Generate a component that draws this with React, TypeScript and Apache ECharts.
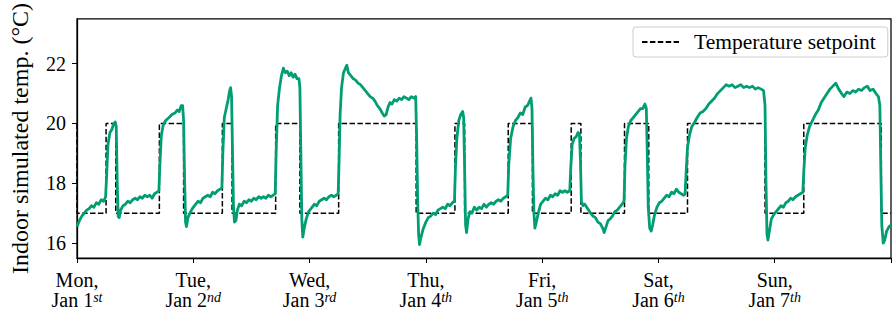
import React, { useEffect, useRef } from "react";
import * as echarts from "echarts";

// x values are hours since Mon, Jan 1st 00:00
const dayNames = ["Mon,", "Tue,", "Wed,", "Thu,", "Fri,", "Sat,", "Sun,"];
const dayDates = ["Jan 1", "Jan 2", "Jan 3", "Jan 4", "Jan 5", "Jan 6", "Jan 7"];
const daySuffixes = ["st", "nd", "rd", "th", "th", "th", "th"];
const yTickValues = [16, 18, 20, 22];

const setpointHours = [0, 0, 6, 8, 17, 22, 30, 32, 41, 46, 54, 70, 78, 80, 89, 94, 102, 104, 113, 118, 126, 142, 150, 166, 168];
const setpointValues = [20, 17, 20, 17, 20, 17, 20, 17, 20, 17, 20, 17, 20, 17, 20, 17, 20, 17, 20, 17, 20, 17, 20, 17, 17];

const monTemps = [
  [0, 16.55], [0.5, 16.75], [1, 16.9], [1.5, 17.0], [2, 17.1], [2.5, 17.15], [3, 17.25], [3.5, 17.2], [4, 17.35], [4.5, 17.3], [5, 17.45], [5.5, 17.4], [5.9, 17.55],
  [6.1, 18.2], [6.4, 19.3], [6.8, 19.7], [7.2, 19.8], [7.6, 20.0], [7.9, 20.05], [8.1, 19.9], [8.3, 18.0], [8.5, 16.9], [8.7, 16.85], [9.0, 17.1], [9.5, 17.25], [10, 17.3], [10.5, 17.4], [11, 17.35], [11.5, 17.45], [12, 17.5], [12.5, 17.45], [13, 17.55], [13.5, 17.5], [14, 17.6], [14.5, 17.55], [15, 17.6], [15.5, 17.5], [16, 17.65], [16.5, 17.7], [16.9, 17.75],
  [17.1, 18.6], [17.4, 19.6], [17.8, 19.95], [18.3, 20.1], [19, 20.2], [19.6, 20.3], [20.2, 20.35], [20.7, 20.45], [21.1, 20.4], [21.5, 20.6], [21.8, 20.6], [22.0, 20.1], [22.2, 18.2], [22.4, 16.7], [22.6, 16.55], [22.9, 16.85], [23.3, 17.0], [23.8, 17.15],
];
const tueTemps = [
  [24.5, 17.3], [25, 17.4], [25.5, 17.35], [26, 17.5], [26.5, 17.55], [27, 17.6], [27.5, 17.55], [28, 17.7], [28.5, 17.65], [29, 17.75], [29.5, 17.8], [29.9, 17.85],
  [30.1, 19.0], [30.4, 20.2], [30.8, 20.5], [31.2, 20.8], [31.5, 21.1], [31.7, 21.2], [31.9, 20.9], [32.1, 19.0], [32.3, 17.2], [32.5, 16.7], [32.8, 16.75], [33.1, 17.1], [33.5, 17.3], [34, 17.25], [34.5, 17.4], [35, 17.35], [35.5, 17.45], [36, 17.4], [36.5, 17.5], [37, 17.45], [37.5, 17.55], [38, 17.5], [38.5, 17.55], [39, 17.5], [39.5, 17.6], [40, 17.55], [40.5, 17.6], [40.9, 17.65],
  [41.1, 19.0], [41.4, 20.6], [41.8, 21.2], [42.2, 21.6], [42.6, 21.85], [43, 21.7], [43.4, 21.75], [43.8, 21.6], [44.2, 21.7], [44.6, 21.55], [45, 21.65], [45.4, 21.5], [45.8, 21.5], [46.0, 21.2], [46.2, 19.0], [46.4, 16.8], [46.6, 16.2], [46.9, 16.5], [47.3, 16.8], [47.8, 17.05],
];
const wedTemps = [
  [48.3, 17.15], [49, 17.3], [49.5, 17.25], [50, 17.4], [50.5, 17.45], [51, 17.5], [51.5, 17.45], [52, 17.55], [52.5, 17.6], [53, 17.55], [53.5, 17.6], [53.9, 17.65],
  [54.1, 18.8], [54.3, 20.3], [54.6, 21.2], [55, 21.7], [55.4, 21.85], [55.7, 21.95], [56, 21.7], [56.5, 21.6], [57, 21.5], [57.5, 21.45], [58, 21.35], [58.5, 21.3], [59, 21.2], [59.5, 21.1], [60, 21.0], [60.5, 20.9], [61, 20.85], [61.5, 20.75], [62, 20.6], [62.5, 20.5], [63, 20.35], [63.4, 20.25], [63.8, 20.3], [64.2, 20.55], [64.6, 20.7], [65, 20.65], [65.5, 20.8], [66, 20.75], [66.5, 20.85], [67, 20.8], [67.5, 20.9], [68, 20.85], [68.5, 20.8], [69, 20.9], [69.5, 20.85], [69.9, 20.9],
  [70.1, 19.5], [70.3, 17.5], [70.5, 16.3], [70.7, 15.95], [71, 16.2], [71.4, 16.45], [72, 16.7],
];
const thuTemps = [
  [72.5, 16.85], [73, 16.9], [73.5, 17.0], [74, 16.95], [74.5, 17.1], [75, 17.15], [75.5, 17.2], [76, 17.15], [76.5, 17.3], [77, 17.25], [77.5, 17.35], [77.9, 17.4],
  [78.1, 18.5], [78.4, 19.5], [78.8, 20.1], [79.2, 20.3], [79.6, 20.4], [79.8, 20.2], [80.0, 18.5], [80.2, 16.6], [80.4, 16.35], [80.7, 16.8], [81.1, 17.05], [81.5, 17.0], [82, 17.2], [82.5, 17.1], [83, 17.2], [83.5, 17.15], [84, 17.3], [84.5, 17.2], [85, 17.3], [85.5, 17.35], [86, 17.3], [86.5, 17.4], [87, 17.45], [87.5, 17.4], [88, 17.5], [88.5, 17.55], [88.9, 17.6],
  [89.1, 18.6], [89.5, 19.5], [90, 19.9], [90.5, 20.1], [91, 20.2], [91.5, 20.35], [92, 20.3], [92.5, 20.55], [93, 20.6], [93.4, 20.75], [93.7, 20.85], [93.9, 20.5], [94.1, 18.5], [94.3, 17.0], [94.5, 16.5], [94.8, 16.7], [95.2, 17.0], [95.7, 17.3],
];
const friTemps = [
  [96.2, 17.4], [96.7, 17.5], [97.2, 17.45], [97.7, 17.6], [98.2, 17.55], [98.7, 17.65], [99.2, 17.6], [99.7, 17.75], [100.2, 17.7], [100.7, 17.75], [101.2, 17.7], [101.7, 17.75],
  [101.9, 18.5], [102.2, 19.3], [102.6, 19.5], [103, 19.55], [103.4, 19.7], [103.7, 19.65], [103.9, 18.8], [104.1, 17.4], [104.4, 17.25], [104.8, 17.3], [105.2, 17.2], [105.6, 17.1], [106, 17.0], [106.5, 16.9], [107, 16.85], [107.5, 16.7], [108, 16.65], [108.5, 16.5], [108.8, 16.35], [109.2, 16.55], [109.6, 16.75], [110, 16.8], [110.5, 16.9], [111, 17.05], [111.5, 17.1], [112, 17.2], [112.5, 17.3], [112.9, 17.4],
  [113.1, 18.6], [113.4, 19.5], [113.8, 19.9], [114.3, 20.1], [114.8, 20.2], [115.3, 20.3], [115.8, 20.4], [116.3, 20.5], [116.8, 20.5], [117.2, 20.65], [117.5, 20.5], [117.7, 19.0], [117.9, 17.2], [118.2, 16.5], [118.5, 16.4], [118.8, 16.6], [119.2, 16.95], [119.7, 17.2],
];
const satTemps = [
  [120.2, 17.35], [120.7, 17.4], [121.2, 17.5], [121.7, 17.6], [122.2, 17.55], [122.7, 17.7], [123.2, 17.65], [123.7, 17.8], [124.2, 17.7], [124.7, 17.65], [125.2, 17.6], [125.5, 17.65],
  [125.7, 18.3], [126, 19.2], [126.4, 19.6], [126.9, 19.9], [127.5, 20.05], [128, 20.2], [128.6, 20.35], [129.2, 20.4], [129.8, 20.5], [130.4, 20.65], [131, 20.75], [131.6, 20.85], [132.2, 21.0], [132.8, 21.1], [133.4, 21.2], [134, 21.3], [134.6, 21.25], [135.2, 21.3], [135.8, 21.2], [136.4, 21.25], [137, 21.3], [137.6, 21.2], [138.2, 21.25], [138.8, 21.2], [139.4, 21.25], [140, 21.15], [140.6, 21.2], [141.2, 21.15], [141.7, 21.1],
  [142, 20.6], [142.2, 18.0], [142.4, 16.3], [142.6, 16.1], [142.9, 16.4], [143.3, 16.8], [143.8, 16.95],
];
const sunTemps = [
  [144.3, 17.05], [144.8, 17.15], [145.3, 17.25], [145.8, 17.2], [146.3, 17.35], [146.8, 17.4], [147.3, 17.5], [147.8, 17.45], [148.3, 17.55], [148.8, 17.6], [149.3, 17.65], [149.8, 17.7],
  [150, 18.4], [150.3, 19.2], [150.7, 19.6], [151.2, 19.9], [151.8, 20.1], [152.4, 20.3], [153, 20.45], [153.6, 20.7], [154.2, 20.85], [154.8, 21.0], [155.4, 21.15], [156, 21.25], [156.6, 21.35], [157.2, 21.15], [157.8, 21.0], [158.3, 20.9], [158.9, 21.05], [159.5, 21.0], [160.1, 21.1], [160.7, 21.05], [161.3, 21.15], [161.9, 21.1], [162.5, 21.2], [163.1, 21.25], [163.7, 21.1], [164.3, 21.15], [164.9, 21.0], [165.4, 20.9],
  [165.7, 20.6], [165.9, 18.5], [166.1, 16.6], [166.4, 16.0], [166.7, 16.1], [167.1, 16.4], [167.6, 16.55], [168, 16.6],
];

const FONT = "'Liberation Serif', 'Times New Roman', serif";

export default function App() {
  const ref = useRef<HTMLDivElement>(null);
  useEffect(() => {
    if (!ref.current) return;
    const chart = echarts.init(ref.current, undefined, { renderer: "svg" });
    const tempData = [...monTemps, ...tueTemps, ...wedTemps, ...thuTemps, ...friTemps, ...satTemps, ...sunTemps];
    const setpointData = setpointHours.map((h, i) => [h, setpointValues[i]]);
    chart.setOption({
      animation: false,
      backgroundColor: "#fff",
      textStyle: { fontFamily: FONT },
      grid: {
        left: 77, top: 17, width: 820, height: 241,
        show: true, borderColor: "#000", borderWidth: 1.25, backgroundColor: "transparent",
      },
      legend: {
        data: ["Temperature setpoint"],
        left: 633, top: 27,
        padding: [4, 12, 4, 8],
        backgroundColor: "rgba(255,255,255,0.8)",
        borderColor: "#cccccc", borderWidth: 1, borderRadius: 3,
        itemWidth: 37, itemHeight: 14,
        itemStyle: { opacity: 0 },
        textStyle: { fontFamily: FONT, fontSize: 21.5, color: "#000", padding: [0, 0, 0, 10] },
      },
      xAxis: {
        type: "value", min: 0, max: 168, interval: 24,
        axisLine: { show: true, lineStyle: { color: "#000", width: 1.25 } },
        axisTick: { show: true, length: 5, lineStyle: { color: "#000", width: 1 } },
        splitLine: { show: false },
        axisLabel: {
          margin: 12,
          color: "#000",
          formatter: (v: number) => {
            const i = Math.round(v / 24);
            if (i < 0 || i >= dayNames.length) return "";
            return `{d|${dayNames[i]}}\n{d|${dayDates[i]}}{s|${daySuffixes[i]}}`;
          },
          rich: {
            d: { fontFamily: FONT, fontSize: 20, lineHeight: 20, color: "#000" },
            s: { fontFamily: FONT, fontSize: 14, fontStyle: "italic", lineHeight: 12, verticalAlign: "top", color: "#000" },
          },
        },
      },
      yAxis: {
        type: "value", min: 15.5, max: 23.5,
        name: "Indoor simulated temp. (°C)",
        nameLocation: "middle", nameGap: 45, nameRotate: 90,
        nameTextStyle: { fontFamily: FONT, fontSize: 24, color: "#000" },
        axisLine: { show: true, lineStyle: { color: "#000", width: 1.25 } },
        axisTick: { show: true, length: 5, lineStyle: { color: "#000", width: 1 }, customValues: yTickValues },
        splitLine: { show: false },
        axisLabel: { margin: 11, color: "#000", fontFamily: FONT, fontSize: 20, customValues: yTickValues },
      },
      series: [
        {
          name: "Temperature setpoint",
          type: "line",
          step: "end",
          data: setpointData,
          symbol: "none",
          showSymbol: false,
          lineStyle: { color: "#000", width: 1.5, type: [5.5, 2.4] },
          itemStyle: { color: "#000" },
          z: 2,
        },
        {
          name: "Indoor temperature",
          type: "line",
          data: tempData,
          symbol: "none",
          showSymbol: false,
          lineStyle: { color: "#029e73", width: 2.8, join: "round" },
          itemStyle: { color: "#029e73" },
          z: 3,
        },
      ],
    });
    return () => chart.dispose();
  }, []);
  return (
    <div
      ref={ref}
      style={{ position: "fixed", left: 0, top: 0, width: 894, height: 312, background: "#fff" }}
    />
  );
}
